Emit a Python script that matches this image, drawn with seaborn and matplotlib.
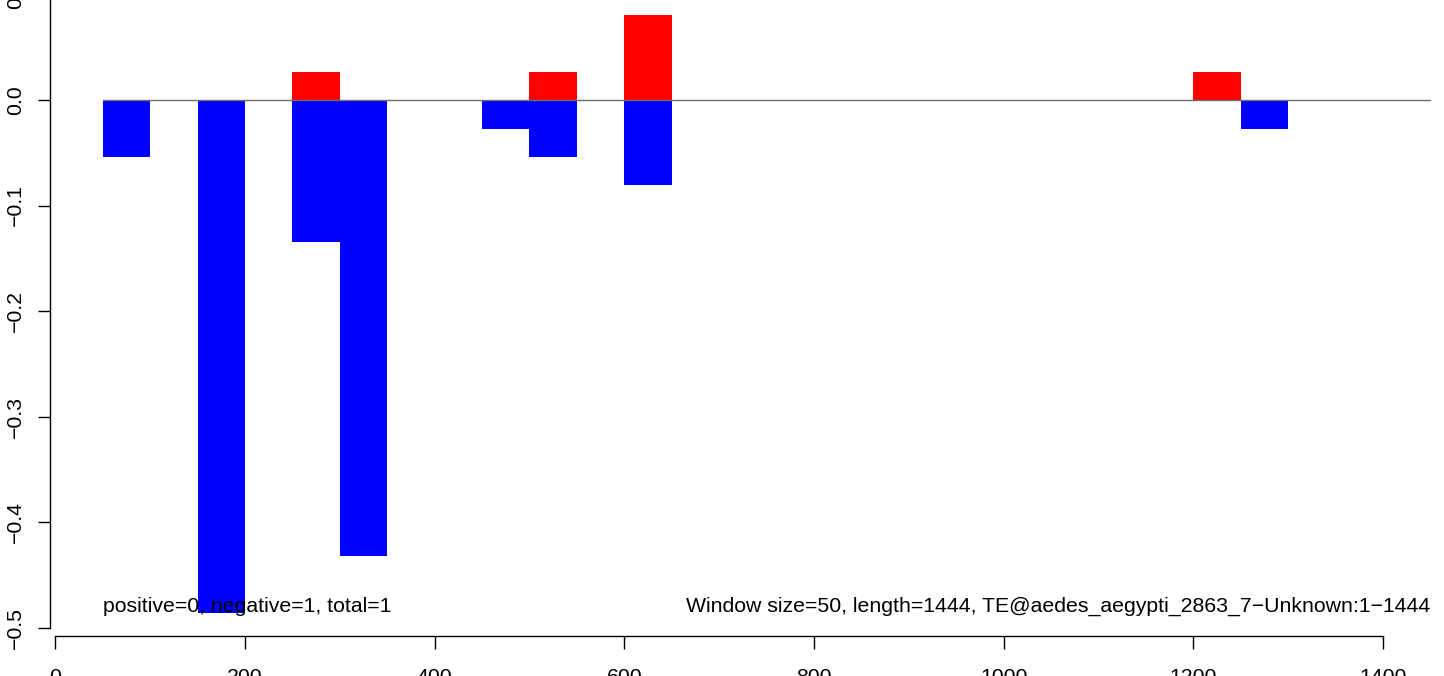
import pandas as pd
import seaborn as sns
import matplotlib
matplotlib.use("Agg")
import matplotlib.pyplot as plt
from matplotlib.ticker import FixedLocator, FuncFormatter

# window start positions (window size 50)
window_start = [50, 150, 250, 300, 450, 500, 600, 1200, 1250]
positive = [0, 0, 0.027, 0, 0, 0.027, 0.081, 0.027, 0]
negative = [-0.054, -0.486, -0.135, -0.432, -0.027, -0.054, -0.081, 0, -0.027]

window_size = 50
seq_length = 1444
x_ticks = [0, 200, 400, 600, 800, 1000, 1200, 1400]
y_ticks = [-0.5, -0.4, -0.3, -0.2, -0.1, 0.0, 0.1]
left_note = "positive=0, negative=1, total=1"
right_note = "Window size=50, length=1444, TE@aedes_aegypti_2863_7\u2212Unknown:1\u22121444"

# long format for seaborn
rows = []
for s, p, n in zip(window_start, positive, negative):
    rows.append({"pos": s + window_size / 2, "value": p, "strand": "positive"})
    rows.append({"pos": s + window_size / 2, "value": n, "strand": "negative"})
df = pd.DataFrame(rows)

sns.set_style("white")
plt.rcParams["font.family"] = ["Liberation Sans", "DejaVu Sans"]
plt.rcParams["text.color"] = "black"
plt.rcParams["xtick.color"] = "black"
plt.rcParams["ytick.color"] = "black"

fig = plt.figure(figsize=(14.44, 6.76), dpi=100)
ax = fig.add_axes([50 / 1444, 40 / 676, 1 - 50 / 1444, 636 / 676])

sns.barplot(data=df, x="pos", y="value", hue="strand", native_scale=True,
            dodge=False, width=1, errorbar=None, legend=False, linewidth=0,
            palette={"positive": "#FF0000", "negative": "#0000FF"}, saturation=1,
            ax=ax)

# zero line across the sequence
ax.plot([window_start[0], seq_length + 6], [0, 0], color="#6E6E6E", lw=1)

ax.set_xlim(-5.6, 1464.4)
ax.set_ylim(-0.508, 0.0948)
ax.set_xlabel("")
ax.set_ylabel("")

# R-like axes
for side in ["top", "right"]:
    ax.spines[side].set_visible(False)
ax.spines["left"].set_bounds(-0.5, 0.1)
ax.spines["bottom"].set_bounds(0, 1400)
for side in ["left", "bottom"]:
    ax.spines[side].set_linewidth(1.0)
    ax.spines[side].set_color("black")

fmt = lambda v, _=None: f"{v:.1f}".replace("-", "\u2212")
ax.xaxis.set_major_locator(FixedLocator(x_ticks))
ax.yaxis.set_major_locator(FixedLocator(y_ticks))
ax.yaxis.set_major_formatter(FuncFormatter(fmt))
ax.tick_params(axis="both", direction="out", length=9, width=1.0, color="black",
               labelcolor="black", labelsize=15.3, left=True, bottom=True)
ax.tick_params(axis="x", pad=14)
ax.tick_params(axis="y", pad=9, labelrotation=90)
for lab in ax.get_yticklabels():
    lab.set_va("center")

# top tick label sits just above the view, partly cut by the image edge
ax.annotate(fmt(y_ticks[-1]), xy=(0, y_ticks[-1]), xycoords=("axes fraction", "data"),
            xytext=(-18, 0), textcoords="offset points", rotation=90,
            ha="right", va="center", fontsize=15.3, annotation_clip=False)

ax.text(window_start[0], -0.485, left_note, fontsize=15.3, ha="left", va="baseline")
ax.text(seq_length + 6, -0.485, right_note, fontsize=15.3, ha="right", va="baseline")

fig.savefig("out.png", dpi=100)
